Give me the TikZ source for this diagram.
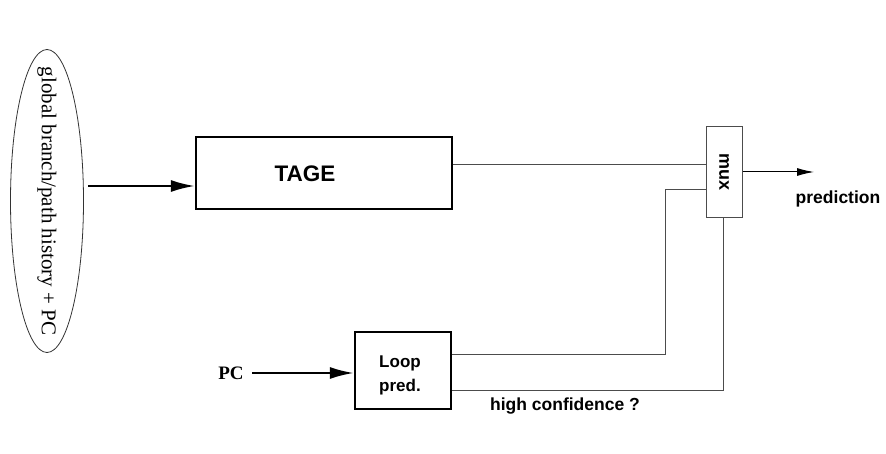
\documentclass[tikz,border=0pt]{standalone}
\usepackage{fontspec}
\setmainfont{Liberation Serif}
\setsansfont{Liberation Sans}
\usetikzlibrary{shapes.geometric,arrows.meta}
\begin{document}
\begin{tikzpicture}[x=1pt,y=-1pt,
  thickbox/.style={draw, line width=2.2pt, inner sep=0pt},
  thinbox/.style={draw=black!70, line width=1pt, inner sep=0pt},
  wire/.style={draw=black!70, line width=1pt},
  bigarrow/.style={line width=2.4pt, -{Latex[length=24pt,width=12pt]}},
  smallarrow/.style={line width=1pt, -{Latex[length=17pt,width=8pt]}},
  lbl/.style={font=\sffamily\bfseries\fontsize{17.5}{20}\selectfont}]
\useasboundingbox (0,0) rectangle (886,454);
\node[draw=black!80, line width=0.8pt, ellipse, minimum width=73pt, minimum height=303pt] (hist) at (47,201) {};
\node[rotate=-90, font=\fontsize{21}{24}\selectfont] at (hist.center) {global branch/path history + PC};
\node[thickbox, minimum width=256pt, minimum height=72pt] (tage) at (324,173) {};
\node[font=\sffamily\bfseries\fontsize{22.5}{26}\selectfont] at (305,174) {TAGE};
\node[thinbox, minimum width=36pt, minimum height=91pt] (mux) at (724,172.5) {};
\node[rotate=-90, font=\sffamily\bfseries\fontsize{18}{20}\selectfont] at (mux.center) {mux};
\node[thickbox, minimum width=96pt, minimum height=77pt] (loop) at (403,370.5) {};
\node[align=center, font=\sffamily\bfseries\fontsize{17}{24}\selectfont] at (400,375) {Loop\\pred.};
\node[font=\bfseries\fontsize{19}{22}\selectfont] (pc) at (231,373) {PC};
\coordinate (hin) at (88,186);
\coordinate (out) at (814,172);
\node[lbl] (pred) at (838,199) {prediction};
\node[lbl] (hc) at (565,406) {high confidence ?};
\draw[bigarrow] (hin) -- (tage.west |- hin);
\draw[bigarrow] (252,373) coordinate (pcs) -- (loop.west |- pcs);
\draw[wire] (tage.east |- 0,165) -- (mux.west |- 0,165);
\draw[wire] (loop.east |- 0,354) -- (665,354) -- (665,190) -- (mux.west |- 0,190);
\draw[wire] (loop.east |- 0,390) -- (723,390) -- (mux.south -| 723,0);
\draw[wire, smallarrow, draw=black] (mux.east |- out) -- (out);
\end{tikzpicture}
\end{document}
